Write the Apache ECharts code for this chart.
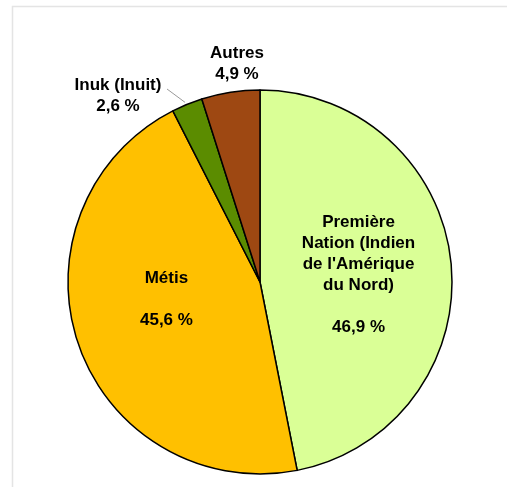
<!DOCTYPE html>
<html><head><meta charset="utf-8">
<script src="https://cdn.jsdelivr.net/npm/echarts@6/dist/echarts.min.js"></script>
<style>html,body{margin:0;padding:0;background:#fff}#c{width:507px;height:487px}</style>
</head><body><div id="c"></div>
<script>
const categories = ["Première\nNation (Indien\nde l'Amérique\ndu Nord)", "Métis", "Inuk (Inuit)", "Autres"];
const values = [46.9, 45.6, 2.6, 4.9];
const colors = ["#DAFF96", "#FFC000", "#5B8C00", "#9E4812"];

const chart = echarts.init(document.getElementById('c'));
const fmt = v => v.toFixed(1).replace('.', ',') + ' %';
const data = categories.map((n, i) => {
  const d = { name: n, value: values[i], itemStyle: { color: colors[i] } };
  if (i === 0) d.label = { position: 'inside', formatter: p => p.name + '\n\n' + fmt(p.value), offset: [0, 2] };
  if (i === 1) d.label = { position: 'inside', formatter: p => p.name + '\n\n' + fmt(p.value), offset: [0, -15] };
  if (i === 2) d.label = { position: 'outside', formatter: p => p.name + '\n' + fmt(p.value) };
  if (i === 3) d.label = { position: 'outside', formatter: p => p.name + '\n' + fmt(p.value) };
  if (i === 3) d.labelLine = { show: false };
  return d;
});
chart.setOption({
  animation: false,
  graphic: [{ type: 'rect', shape: { x: 12.5, y: 6.5, width: 700, height: 700 }, style: { fill: 'none', stroke: '#e4e4e4', lineWidth: 1.5 }, silent: true }],
  series: [{
    type: 'pie',
    center: [260, 282],
    radius: 192,
    startAngle: 90,
    clockwise: true,
    avoidLabelOverlap: false,
    itemStyle: { borderColor: '#000', borderWidth: 1.5 },
    label: { color: '#000', fontFamily: 'Liberation Sans, Arial, sans-serif', fontWeight: 'bold', fontSize: 17, lineHeight: 21, align: 'center' },
    labelLine: { show: true, length: 8, length2: 0, lineStyle: { color: '#999', width: 1 } },
    emphasis: { disabled: true },
    labelLayout: function (p) {
      if (p.dataIndex === 2) {
        const e = p.labelLinePoints ? p.labelLinePoints[0] : [185, 103];
        return { x: 118, y: 96, align: 'center', verticalAlign: 'middle', labelLinePoints: [[e[0] - 2, e[1] - 2], [e[0] - 2, e[1] - 2], [167, 89]] };
      }
      if (p.dataIndex === 3) return { x: 237, y: 64, align: 'center', verticalAlign: 'middle' };
      return {};
    },
    data: data
  }]
});
</script></body></html>
